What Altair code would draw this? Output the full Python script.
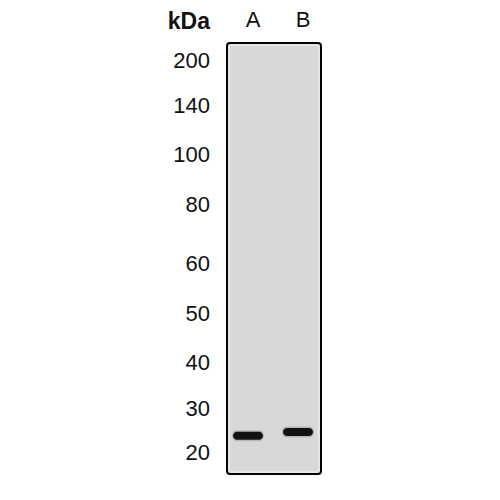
import altair as alt
import pandas as pd

# marker ladder (kDa) and detected band sizes
markers = [200, 140, 100, 80, 60, 50, 40, 30, 20]
marker_px = [53, 98, 147, 197, 256, 306, 355, 401, 445]  # migration (scale range)
lanes = ["A", "B"]
band_kda = [23.9, 24.8]
unit_label = "kDa"

FONT = "Liberation Sans"

ladder = pd.DataFrame({"kDa": markers, "label": [str(m) for m in markers]})
bands = pd.DataFrame({"lane": lanes, "kDa": band_kda})
heads = pd.DataFrame({"lane": lanes})
single = pd.DataFrame({"unit": [unit_label]})

yscale = alt.Scale(domain=markers, range=marker_px, zero=False, nice=False)
xscale = alt.Scale(type="point", domain=lanes, range=[240, 290], padding=0)

one = alt.Chart(single)

frame = one.mark_rect(fill="#e6e6e6", stroke="#000000", strokeWidth=2, cornerRadius=3).encode(
    x=alt.value(219), x2=alt.value(313), y=alt.value(35), y2=alt.value(466)
)
inner = one.mark_rect(fill="#d8d8d8").encode(
    x=alt.value(222), x2=alt.value(310), y=alt.value(38), y2=alt.value(463)
)

labels = alt.Chart(ladder).mark_text(align="right", baseline="middle", font=FONT, fontSize=22, color="#111111").encode(
    y=alt.Y("kDa:Q", scale=yscale, axis=None),
    x=alt.value(202),
    text="label:N",
)

halo = alt.Chart(bands).mark_tick(color="#555555", opacity=0.25, size=32, thickness=11, cornerRadius=5).encode(
    x=alt.X("lane:N", scale=xscale, axis=None),
    y=alt.Y("kDa:Q", scale=yscale, axis=None),
)
band = alt.Chart(bands).mark_tick(color="#111111", opacity=1, size=30, thickness=8, cornerRadius=4).encode(
    x=alt.X("lane:N", scale=xscale, axis=None),
    y=alt.Y("kDa:Q", scale=yscale, axis=None),
)

head = alt.Chart(heads).mark_text(baseline="top", font=FONT, fontSize=22, color="#111111", dx=5).encode(
    x=alt.X("lane:N", scale=xscale, axis=None),
    y=alt.value(2),
    text="lane:N",
)
kda = one.mark_text(align="right", baseline="top", font=FONT, fontSize=23, fontWeight="bold", color="#111111").encode(
    x=alt.value(202), y=alt.value(3), text="unit:N"
)

chart = alt.layer(frame, inner, halo, band, labels, head, kda).properties(
    width=484, height=484, padding=0, autosize=alt.AutoSizeParams(type="none"),
    view=alt.ViewConfig(stroke="transparent", strokeWidth=0),
).configure_view(stroke="transparent", strokeWidth=0).configure(background="white")

chart.save("out.html", embed_options={"renderer": "svg", "actions": False})
